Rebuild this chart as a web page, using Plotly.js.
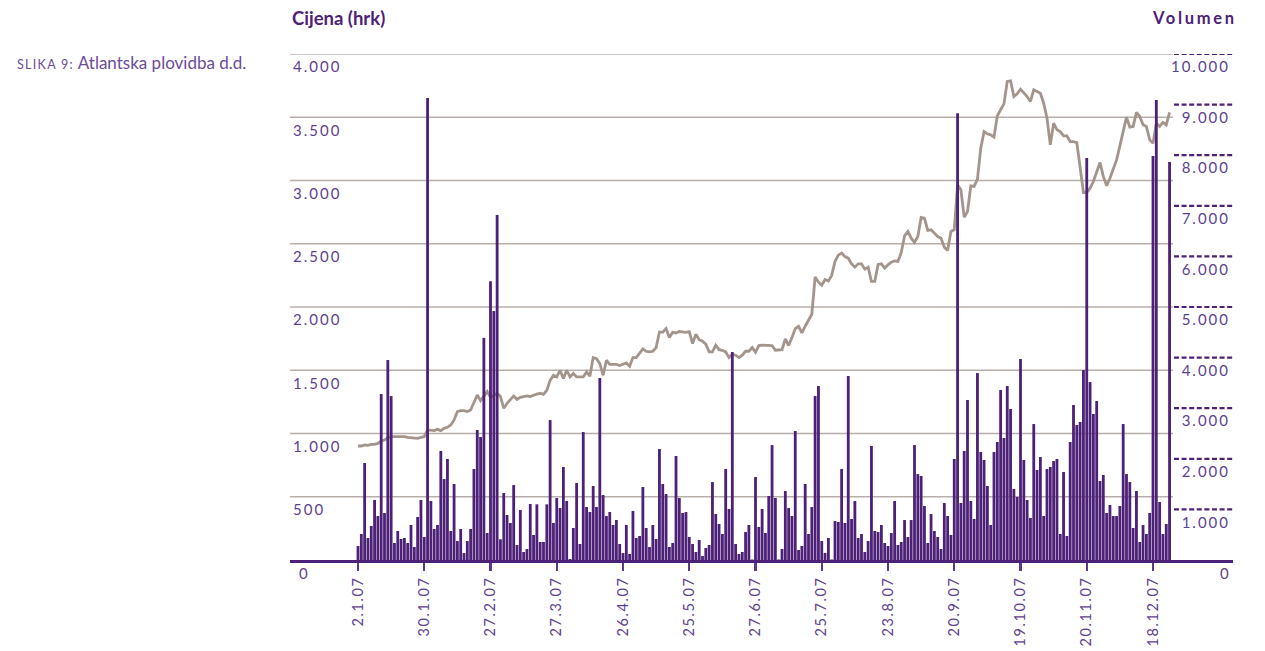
<!DOCTYPE html>
<html>
<head>
<meta charset="utf-8">
<script src="https://cdn.plot.ly/plotly-3.0.1.min.js"></script>
<style>
  html, body { margin: 0; padding: 0; background: #ffffff; }
  #chart { width: 1265px; height: 651px; }
</style>
</head>
<body>
<div id="chart"></div>
<script>
// ---- Data ----
// Daily trading volume (Volumen), one value per trading day of 2007
const volume = [
  277, 514, 1917, 435, 672, 1186, 870, 3280, 929, 3952,
  3240, 336, 573, 415, 435, 336, 692, 257, 850, 1186,
  455, 9130, 1166, 613, 692, 2154, 1600, 1996, 573, 1502,
  375, 613, 138, 375, 613, 1798, 2569, 2430, 4390, 534,
  5510, 4920, 6820, 409, 1324, 889, 731, 1482, 296, 988,
  158, 217, 1107, 494, 1100, 356, 356, 1100, 2766, 731,
  1225, 1027, 1838, 1166, 20, 632, 1522, 316, 2529, 1047,
  948, 1462, 1047, 3596, 1284, 869, 948, 692, 790, 316,
  138, 692, 119, 968, 435, 474, 1442, 632, 257, 692,
  415, 2193, 1502, 1304, 257, 336, 2055, 1225, 929, 948,
  455, 316, 158, 395, 79, 237, 296, 1541, 909, 711,
  514, 1798, 1008, 4110, 316, 119, 158, 553, 692, 10,
  1640, 652, 1008, 534, 1265, 2272, 1225, 10, 217, 1363,
  1027, 870, 2549, 198, 277, 1502, 514, 1047, 3240, 3438,
  375, 138, 435, 10, 770, 751, 1798, 731, 3636, 810,
  1166, 435, 514, 158, 375, 2253, 573, 553, 692, 336,
  277, 534, 1166, 296, 356, 790, 455, 790, 2272, 1699,
  1660, 1067, 336, 909, 573, 455, 217, 1126, 870, 494,
  1996, 8830, 1126, 2154, 3162, 1166, 810, 3695, 2134, 1976,
  1462, 692, 2134, 2332, 3359, 2411, 3438, 2984, 1403, 1245,
  3972, 1976, 1186, 830, 2687, 1778, 2035, 870, 1798, 1838,
  1956, 1996, 514, 1739, 474, 2332, 3063, 2668, 2727, 3754,
  7944, 3517, 2885, 3142, 1561, 1680, 929, 1087, 869, 869,
  1067, 2687, 1699, 1541, 632, 1363, 356, 692, 514, 929,
  7983, 9090, 1146, 514, 711, 7865
];

// Daily share price (Cijena, hrk)
const price = [
  901, 901, 909, 906, 914, 914, 922, 941, 949, 967,
  975, 975, 980, 975, 975, 970, 967, 962, 962, 970,
  975, 1028, 1028, 1023, 1033, 1023, 1041, 1049, 1067, 1107,
  1173, 1181, 1181, 1173, 1186, 1252, 1304, 1260, 1292, 1331,
  1286, 1304, 1318, 1292, 1199, 1239, 1265, 1297, 1270, 1286,
  1292, 1297, 1292, 1304, 1312, 1318, 1310, 1342, 1420, 1460,
  1447, 1500, 1434, 1500, 1447, 1474, 1447, 1447, 1447, 1487,
  1453, 1600, 1592, 1553, 1460, 1579, 1547, 1547, 1547, 1537,
  1547, 1558, 1532, 1600, 1600, 1632, 1669, 1650, 1645, 1650,
  1679, 1803, 1800, 1829, 1758, 1800, 1795, 1806, 1800, 1800,
  1806, 1711, 1785, 1742, 1729, 1706, 1645, 1645, 1698, 1663,
  1658, 1645, 1600, 1626, 1619, 1600, 1619, 1650, 1650, 1679,
  1642, 1695, 1698, 1698, 1698, 1695, 1658, 1658, 1663, 1748,
  1695, 1758, 1829, 1848, 1795, 1848, 1890, 1943, 2238, 2196,
  2172, 2217, 2206, 2250, 2360, 2410, 2426, 2399, 2386, 2341,
  2315, 2341, 2341, 2299, 2315, 2202, 2202, 2336, 2341, 2307,
  2333, 2354, 2365, 2360, 2431, 2563, 2597, 2544, 2510, 2557,
  2708, 2702, 2605, 2610, 2584, 2557, 2544, 2473, 2447, 2597,
  2610, 2966, 2926, 2710, 2755, 2958, 2953, 3011, 3256, 3387,
  3369, 3361, 3343, 3511, 3559, 3606, 3783, 3788, 3664, 3685,
  3722, 3696, 3664, 3625, 3717, 3704, 3690, 3611, 3493, 3282,
  3453, 3401, 3387, 3353, 3353, 3308, 3308, 3300, 3097, 2905,
  2905, 2939, 2992, 3071, 3142, 3032, 2958, 3018, 3097, 3163,
  3274, 3401, 3501, 3422, 3427, 3538, 3506, 3440, 3427, 3321,
  3295, 3453, 3427, 3459, 3440, 3538
];

// Date tick labels (every 20th trading day)
const dateTickDays = [0, 20, 40, 60, 80, 100, 120, 140, 160, 180, 200, 220, 240];
const dateTickLabels = ["2.1.07", "30.1.07", "27.2.07", "27.3.07", "26.4.07", "25.5.07",
                        "27.6.07", "25.7.07", "23.8.07", "20.9.07", "19.10.07", "20.11.07", "18.12.07"];

// Price axis ticks (the "0" is placed under the axis line separately)
const priceTicks = [500, 1000, 1500, 2000, 2500, 3000, 3500, 4000];
const priceTickLabels = ["500", "1.000", "1.500", "2.000", "2.500", "3.000", "3.500", "4.000"];

// Volume axis ticks
const volumeTicks = [1000, 2000, 3000, 4000, 5000, 6000, 7000, 8000, 9000, 10000];
const volumeTickLabels = ["1.000", "2.000", "3.000", "4.000", "5.000", "6.000", "7.000", "8.000", "9.000", "10.000"];
const zeroLabel = "0";

// Texts
const figureLabel = "SLIKA 9:";
const figureTitle = "Atlantska plovidba d.d.";
const priceTitle = "Cijena (hrk)";
const volumeTitle = "Volumen";

// ---- Styling ----
const PURPLE = "#4d2178";
const TEXT_PURPLE = "#5e3f91";
const LINE_GREY = "#a3948c";
const GRID_GREY = "#b9afaa";
const FONT = "Lato, 'Open Sans', sans-serif";
const spaced = (s, px) => `<span style="letter-spacing:${px}px">${s}</span>`;

const days = volume.map((_, i) => i);
const GRID_END = 0.9364; // paper fraction where the price grid stops

const priceTrace = {
  type: "scatter",
  mode: "lines",
  x: days,
  y: price,
  xaxis: "x",
  yaxis: "y",
  line: { color: LINE_GREY, width: 2.8 },
  hoverinfo: "skip",
  showlegend: false
};

const volumeTrace = {
  type: "bar",
  x: days,
  y: volume,
  xaxis: "x",
  yaxis: "y2",
  width: 0.85,
  marker: { color: PURPLE, line: { width: 0 } },
  hoverinfo: "skip",
  showlegend: false
};

const shapes = [];
priceTicks.forEach(v => {
  shapes.push({
    type: "line", xref: "paper", yref: "y",
    x0: 0, x1: GRID_END, y0: v, y1: v,
    line: { color: GRID_GREY, width: 1.5 },
    layer: "below"
  });
});
volumeTicks.forEach(v => {
  shapes.push({
    type: "line", xref: "paper", yref: "y2",
    x0: GRID_END + 0.001, x1: 1, y0: v, y1: v,
    line: { color: PURPLE, width: 2.2, dash: "5px,2.6px" },
    layer: "above"
  });
});

const annotations = [
  {
    xref: "paper", yref: "paper", x: -0.2916, y: 0.984,
    xanchor: "left", yanchor: "middle", showarrow: false,
    text: `<span style="font-size:12.5px;letter-spacing:1.3px">${figureLabel}</span> ${figureTitle}`,
    font: { family: FONT, size: 17, color: "#6a4c9a" }
  },
  {
    xref: "paper", yref: "paper", x: 0.0, y: 1.071,
    xanchor: "left", yanchor: "middle", showarrow: false,
    text: `<b>${priceTitle}</b>`,
    font: { family: FONT, size: 18.5, color: PURPLE }
  },
  {
    xref: "paper", yref: "paper", x: 1.006, y: 1.071,
    xanchor: "right", yanchor: "middle", showarrow: false,
    text: `<b>${spaced(volumeTitle, 2.7)}</b>`,
    font: { family: FONT, size: 16.5, color: PURPLE }
  },
  {
    xref: "paper", yref: "paper", x: 0.0138, y: -0.026,
    xanchor: "center", yanchor: "middle", showarrow: false,
    text: zeroLabel,
    font: { family: FONT, size: 15, color: TEXT_PURPLE }
  },
  {
    xref: "paper", yref: "paper", x: 0.9915, y: -0.026,
    xanchor: "center", yanchor: "middle", showarrow: false,
    text: zeroLabel,
    font: { family: FONT, size: 15, color: TEXT_PURPLE }
  }
];

const layout = {
  width: 1265,
  height: 651,
  margin: { l: 290, r: 32, t: 54, b: 91 },
  paper_bgcolor: "#ffffff",
  plot_bgcolor: "#ffffff",
  showlegend: false,
  hovermode: false,
  xaxis: {
    range: [-20.53, 264.15],
    tickvals: dateTickDays,
    ticktext: dateTickLabels.map(s => spaced(s, 1.6)),
    tickangle: -90,
    ticks: "outside",
    ticklen: 8,
    tickwidth: 2.4,
    tickcolor: "#5b3a8e",
    showline: true,
    linecolor: PURPLE,
    linewidth: 2.6,
    showgrid: false,
    zeroline: false,
    tickfont: { family: FONT, size: 14.5, color: TEXT_PURPLE },
    fixedrange: true
  },
  yaxis: {
    range: [0, 4000],
    tickvals: priceTicks,
    ticktext: priceTickLabels.map(s => spaced(s, 2)),
    ticklabelposition: "inside",
    ticklabelshift: 13,
    ticks: "",
    showgrid: false,
    zeroline: false,
    showline: false,
    tickfont: { family: FONT, size: 15, color: TEXT_PURPLE },
    fixedrange: true
  },
  yaxis2: {
    range: [0, 10000],
    overlaying: "y",
    side: "right",
    tickvals: volumeTicks,
    ticktext: volumeTickLabels.map(s => spaced(s, 2)),
    ticklabelposition: "inside",
    ticklabelshift: 13,
    ticks: "",
    showgrid: false,
    zeroline: false,
    showline: false,
    tickfont: { family: FONT, size: 15, color: TEXT_PURPLE },
    fixedrange: true
  },
  shapes: shapes,
  annotations: annotations
};

Plotly.newPlot("chart", [priceTrace, volumeTrace], layout, { displayModeBar: false, staticPlot: true });
</script>
</body>
</html>
